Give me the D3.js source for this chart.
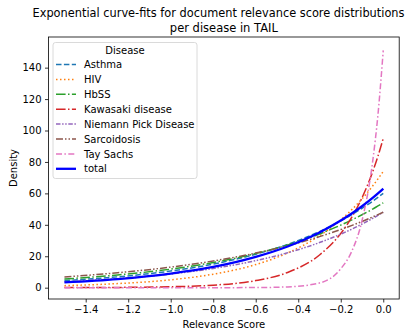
<!DOCTYPE html>
<html>
<head>
<meta charset="utf-8">
<script src="https://cdn.jsdelivr.net/npm/d3@7"></script>
<style>
  body { margin: 0; background: #fff; }
  text { font-family: "DejaVu Sans", sans-serif; fill: #000; }
</style>
</head>
<body>
<div id="graphic"></div>
<script>
const width = 418;
const height = 335;

const scores = [-1.5, -1.25, -1.0, -0.8, -0.6, -0.45, -0.3, -0.2, -0.15, -0.1, -0.05, -0.025, 0];

const diseases = ['Asthma', 'HIV', 'HbSS', 'Kawasaki disease', 'Niemann Pick Disease', 'Sarcoidosis', 'Tay Sachs', 'total'];

const asthma     = [4.5, 6.9, 10.6, 15.0, 21.3, 27.5, 35.7, 42.5, 46.3, 50.5, 55.0, 57.5, 60];
const hiv        = [1.3, 2.6, 5.0, 8.6, 14.7, 22.1, 33.0, 43.2, 49.4, 56.5, 64.7, 69.2, 74];
const hbss       = [5.5, 8.1, 11.8, 16.0, 21.7, 27.2, 34.2, 39.8, 43.0, 46.4, 50.0, 52.0, 54];
const kawasaki   = [0.05, 0.17, 0.6, 1.6, 4.5, 9.7, 20.8, 34.5, 44.4, 57.2, 73.7, 83.7, 95];
const niemann    = [3.7, 5.7, 8.7, 12.2, 17.2, 22.2, 28.7, 34.1, 37.1, 40.5, 44.1, 46.0, 48];
const sarcoidosis = [6.8, 9.5, 13.1, 17.0, 22.0, 26.7, 32.5, 37.0, 39.5, 42.1, 45.0, 46.5, 48];
const taySachs   = [0, 0, 0, 0, 0.08, 0.5, 3.0, 12.0, 22.6, 42.6, 80.2, 110, 151];
const total      = [3.4, 5.5, 9.0, 13.2, 19.6, 26.2, 35.1, 42.7, 47.0, 51.8, 57.1, 60.0, 63];

const seriesValues = [asthma, hiv, hbss, kawasaki, niemann, sarcoidosis, taySachs, total];

const yTicks = [0, 20, 40, 60, 80, 100, 120, 140];
const xTicks = [-1.4, -1.2, -1.0, -0.8, -0.6, -0.4, -0.2, 0.0];

const colors = ['#1f77b4', '#ff7f0e', '#2ca02c', '#d62728', '#9467bd', '#8c564b', '#e377c2', '#0000ff'];
const dashes = ['5.5,2.4', '1.5,2.5', '9.6,2.4,1.5,2.4', '9.6,2.4,1.5,2.4',
                '4.5,1.6,1.5,1.6,1.5,1.6', '7,2,1.5,2,1.5,2', '6,2.4,1.5,2.4', null];
const widths = [1.5, 1.5, 1.5, 1.5, 1.5, 1.5, 1.5, 2.3];

const margin = {left: 48.5, right: 18.8, top: 37, bottom: 36};

var svgGraph = d3.select('#graphic')
    .append('svg')
    .attr('width', width)
    .attr('height', height);

const scaleX = d3.scaleLinear()
    .domain([-1.575, 0.075])
    .range([margin.left, width - margin.right]);

const scaleY = d3.scaleLinear()
    .domain([-7.2, 159.5])
    .range([height - margin.bottom, margin.top]);

const line = d3.line()
    .x((d, i) => scaleX(scores[i]))
    .y(d => scaleY(d))
    .curve(d3.curveMonotoneX);

// curves
svgGraph.append('g')
    .selectAll('path')
    .data(seriesValues)
    .enter()
    .append('path')
    .attr('d', d => line(d))
    .attr('fill', 'none')
    .attr('stroke', (d, i) => colors[i])
    .attr('stroke-width', (d, i) => widths[i])
    .attr('stroke-dasharray', (d, i) => dashes[i]);

//Axis
const axisX = d3.axisBottom(scaleX)
    .tickValues(xTicks)
    .tickSizeOuter(0)
    .tickSize(3.5)
    .tickPadding(3.5)
    .tickFormat(d => d3.format('.1f')(d).replace('-', '\u2212'));

svgGraph.append('g')
    .attr('transform', `translate(0, ${height - margin.bottom})`)
    .call(axisX);

const axisY = d3.axisLeft(scaleY)
    .tickValues(yTicks)
    .tickSizeOuter(0)
    .tickSize(3.5)
    .tickPadding(3.5);

svgGraph.append('g')
    .attr('transform', `translate(${margin.left}, 0)`)
    .call(axisY);

svgGraph.selectAll('.tick text')
    .attr('font-size', 10)
    .attr('font-family', 'DejaVu Sans');
svgGraph.selectAll('.tick line').attr('stroke-width', 0.8);
svgGraph.selectAll('.domain').remove();

// frame
svgGraph.append('rect')
    .attr('x', margin.left)
    .attr('y', margin.top)
    .attr('width', width - margin.left - margin.right)
    .attr('height', height - margin.top - margin.bottom)
    .attr('fill', 'none')
    .attr('stroke', '#000')
    .attr('stroke-width', 0.8);
//Axis END

// titles
const cx = (margin.left + width - margin.right) / 2;
svgGraph.append('text')
    .attr('x', 218.5).attr('y', 17)
    .attr('text-anchor', 'middle')
    .attr('font-size', 11.5)
    .attr('textLength', 372)
    .attr('lengthAdjust', 'spacingAndGlyphs')
    .text('Exponential curve-fits for document relevance score distributions');
svgGraph.append('text')
    .attr('x', cx).attr('y', 32)
    .attr('text-anchor', 'middle')
    .attr('font-size', 11.5)
    .text('per disease in TAIL');

svgGraph.append('text')
    .attr('x', cx).attr('y', 328)
    .attr('text-anchor', 'middle')
    .attr('font-size', 10)
    .text('Relevance Score');

svgGraph.append('text')
    .attr('transform', `translate(17, ${(margin.top + height - margin.bottom) / 2}) rotate(-90)`)
    .attr('text-anchor', 'middle')
    .attr('font-size', 10)
    .text('Density');

// legend
const legend = svgGraph.append('g');
legend.append('rect')
    .attr('x', 53)
    .attr('y', 42.5)
    .attr('width', 144)
    .attr('height', 136)
    .attr('rx', 2.5)
    .attr('fill', 'rgba(255,255,255,0.8)')
    .attr('stroke', '#d0d0d0')
    .attr('stroke-width', 0.8);

legend.append('text')
    .attr('x', 125).attr('y', 54)
    .attr('text-anchor', 'middle')
    .attr('font-size', 10)
    .text('Disease');

const legendRow = legend.selectAll('.row')
    .data(diseases)
    .enter()
    .append('g')
    .attr('class', 'row')
    .attr('transform', (d, i) => `translate(0, ${64.5 + i * 14.9})`);

legendRow.append('line')
    .attr('x1', 56).attr('x2', 76)
    .attr('y1', 0).attr('y2', 0)
    .attr('stroke', (d, i) => colors[i])
    .attr('stroke-width', (d, i) => widths[i])
    .attr('stroke-dasharray', (d, i) => dashes[i]);

legendRow.append('text')
    .attr('x', 84)
    .attr('y', 3.6)
    .attr('font-size', 10)
    .text(d => d);
</script>
</body>
</html>
